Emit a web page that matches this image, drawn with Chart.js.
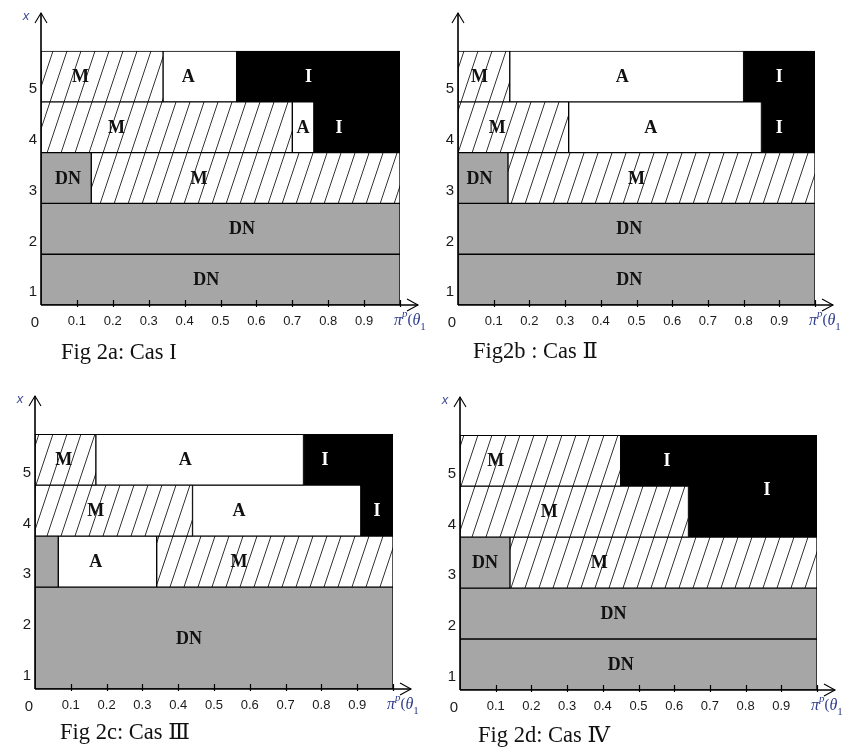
<!DOCTYPE html>
<html><head><meta charset="utf-8">
<script src="https://cdn.jsdelivr.net/npm/chart.js@4/dist/chart.umd.min.js"></script>
<style>
html,body{margin:0;padding:0;background:#fff;}
body{width:853px;height:749px;position:relative;overflow:hidden;}
canvas{position:absolute;}
.cap{position:absolute;font-family:'Liberation Serif','DejaVu Serif',serif;font-size:22.5px;line-height:24px;color:#111;white-space:nowrap;}
</style></head><body>
<canvas id="ca" width="440" height="341" style="left:0;top:0"></canvas>
<canvas id="cb" width="428" height="341" style="left:425px;top:0"></canvas>
<canvas id="cc" width="440" height="341" style="left:0;top:383px"></canvas>
<canvas id="cd" width="428" height="341" style="left:425px;top:384px"></canvas>
<div class="cap" style="left:61px;top:340px">Fig 2a: Cas I</div>
<div class="cap" style="left:473px;top:339px">Fig2b : Cas Ⅱ</div>
<div class="cap" style="left:60px;top:720px">Fig 2c: Cas Ⅲ</div>
<div class="cap" style="left:478px;top:723px">Fig 2d: Cas Ⅳ</div>
<script>
// ---- data: [row (or [fromRow,toRow]), zone, start, end, labelX, labelY] ----
const caseI = [
  [1,'DN',0,1,0.46],
  [2,'DN',0,1,0.56],
  [3,'DN',0,0.14,0.075],
  [3,'M',0.14,1,0.44],
  [4,'M',0,0.70,0.21],
  [4,'A',0.70,0.76,0.73],
  [4,'I',0.76,1,0.83],
  [5,'M',0,0.34,0.11],
  [5,'A',0.34,0.545,0.41],
  [5,'I',0.545,1,0.745]
];
const caseII = [
  [1,'DN',0,1,0.48],
  [2,'DN',0,1,0.48],
  [3,'DN',0,0.14,0.06],
  [3,'M',0.14,1,0.5],
  [4,'M',0,0.31,0.11],
  [4,'A',0.31,0.85,0.54],
  [4,'I',0.85,1,0.9],
  [5,'M',0,0.145,0.06],
  [5,'A',0.145,0.8,0.46],
  [5,'I',0.8,1,0.9]
];
const caseIII = [
  [[1,2],'DN',0,1,0.43],
  [3,'DN',0,0.065,null],
  [3,'A',0.065,0.34,0.17],
  [3,'M',0.34,1,0.57],
  [4,'M',0,0.44,0.17],
  [4,'A',0.44,0.91,0.57],
  [4,'I',0.91,1,0.955],
  [5,'M',0,0.17,0.08],
  [5,'A',0.17,0.75,0.42],
  [5,'I',0.75,1,0.81]
];
const caseIV = [
  [1,'DN',0,1,0.45],
  [2,'DN',0,1,0.43],
  [3,'DN',0,0.14,0.07],
  [3,'M',0.14,1,0.39],
  [4,'M',0,0.64,0.25],
  [4,'I',0.64,1,0.86,3.93],
  [5,'M',0,0.45,0.1],
  [5,'I',0.45,1,0.58]
];
const zones = ['DN','M','A','I'];
const yTickLabels = ['1','2','3','4','5'];
const xTickValues = [0.1,0.2,0.3,0.4,0.5,0.6,0.7,0.8,0.9,1.0];
const xTickLabels = ['0.1','0.2','0.3','0.4','0.5','0.6','0.7','0.8','0.9',''];
const axisNames = ['x','','x','x'];

// ---- styles ----
function hatch() {
  const w = 14, h = 42;
  const c = document.createElement('canvas'); c.width = w; c.height = h;
  const g = c.getContext('2d');
  g.fillStyle = '#fff'; g.fillRect(0, 0, w, h);
  g.strokeStyle = '#333'; g.lineWidth = 1;
  for (const o of [-w, 0, w]) { g.beginPath(); g.moveTo(o, h); g.lineTo(o + w, 0); g.stroke(); }
  return g.createPattern(c, 'repeat');
}
const fills = { DN: '#a6a6a6', M: hatch(), A: '#ffffff', I: '#000000' };

function expand(segs) {
  const out = [];
  for (const s of segs) {
    const [lo, hi] = Array.isArray(s[0]) ? s[0] : [s[0], s[0]];
    for (let r = lo; r <= hi; r++) out.push({ y: r - 0.5, x: [s[2], s[3]], openTop: r < hi, openBottom: r > lo });
  }
  return out;
}

const deco = {
  id: 'deco',
  afterDatasetsDraw(chart, args, opts) {
    const { ctx, chartArea: a, scales: { x, y } } = chart;
    const x0 = x.getPixelForValue(0), y0 = y.getPixelForValue(0);
    const yTop = y.getPixelForValue(y.max);
    ctx.save();
    // zone labels
    ctx.textAlign = 'center'; ctx.textBaseline = 'middle';
    ctx.font = 'bold 18px "Liberation Serif"';
    for (const s of opts.segs) {
      if (s[4] === null) continue;
      const [lo, hi] = Array.isArray(s[0]) ? s[0] : [s[0], s[0]];
      const lx = s[4] !== undefined ? s[4] : (s[2] + s[3]) / 2;
      const ly = s[5] !== undefined ? s[5] : (lo - 1 + hi) / 2;
      ctx.fillStyle = s[1] === 'I' ? '#fff' : '#111';
      ctx.fillText(s[1], x.getPixelForValue(lx), y.getPixelForValue(ly) + 1);
    }
    // axes
    const xe = x.getPixelForValue(1) + 18;
    ctx.strokeStyle = '#000'; ctx.lineWidth = 1.6;
    ctx.beginPath();
    ctx.moveTo(x0, y0); ctx.lineTo(x0, yTop);
    ctx.moveTo(x0, y0); ctx.lineTo(xe, y0);
    ctx.stroke();
    ctx.lineWidth = 1.1;
    ctx.beginPath();
    ctx.moveTo(x0 - 6, yTop + 10); ctx.lineTo(x0, yTop); ctx.lineTo(x0 + 6, yTop + 10);
    ctx.moveTo(xe - 11, y0 - 6); ctx.lineTo(xe, y0); ctx.lineTo(xe - 11, y0 + 6);
    ctx.stroke();
    ctx.lineWidth = 1.2;
    ctx.beginPath();
    for (const v of xTickValues) {
      const px = Math.round(x.getPixelForValue(v)) + 0.5;
      ctx.moveTo(px, y0 - 5); ctx.lineTo(px, y0 + 2);
    }
    ctx.stroke();
    // origin "0"
    ctx.fillStyle = '#1a1a1a';
    ctx.font = '15px "Liberation Sans"';
    ctx.textAlign = 'center';
    ctx.fillText('0', x0 - 6, y0 + 18);
    // axis name
    if (opts.name) {
      ctx.fillStyle = '#3f4b93';
      ctx.font = 'italic 13px "Liberation Sans"';
      ctx.fillText(opts.name, x0 - 15, yTop + 3);
    }
    // x-axis title pi^p(theta_1)
    ctx.fillStyle = '#2d3c8a';
    ctx.textAlign = 'left'; ctx.textBaseline = 'alphabetic';
    let px = x.getPixelForValue(1) - 6; const py = y0 + 20;
    const put = (t, f, dy) => { ctx.font = f; ctx.fillText(t, px, py + dy); px += ctx.measureText(t).width; };
    put('π', 'italic 16px "Liberation Serif"', 0);
    put('p', 'italic 11px "Liberation Serif"', -8);
    put('(', '15px "Liberation Serif"', -1);
    put('θ', 'italic 16px "Liberation Serif"', 0);
    put('1', '11px "Liberation Serif"', 5);
    ctx.restore();
  }
};

function makeChart(id, segs, name, left, right, bottom) {
  const datasets = zones.map(k => ({
    label: k,
    data: expand(segs.filter(s => s[1] === k)),
    backgroundColor: fills[k],
    borderColor: '#000',
    borderWidth: ctx => {
      const r = ctx.raw;
      if (!r) return 1;
      return { top: r.openTop ? 0 : 1, bottom: r.openBottom ? 0 : 1, left: 1, right: 1 };
    },
    borderSkipped: false,
    grouped: false,
    barPercentage: 1,
    categoryPercentage: 1
  }));
  return new Chart(document.getElementById(id), {
    type: 'bar',
    data: { datasets },
    plugins: [deco],
    options: {
      indexAxis: 'y',
      responsive: false,
      animation: false,
      events: [],
      layout: { padding: { left: 0, top: 10, right: right, bottom: 0 } },
      plugins: { legend: { display: false }, tooltip: { enabled: false }, deco: { segs, name } },
      scales: {
        x: {
          type: 'linear', min: 0, max: 1, stacked: false, offset: false,
          grid: { display: false, drawTicks: false }, border: { display: false },
          afterBuildTicks: s => { s.ticks = xTickValues.map(v => ({ value: v })); },
          afterFit: s => { s.height = bottom; },
          ticks: { autoSkip: false, maxRotation: 0, padding: 9, color: '#1a1a1a',
                   font: { family: 'Liberation Sans', size: 13 },
                   callback: (v, i) => xTickLabels[i] }
        },
        y: {
          type: 'linear', min: 0, max: 5.75, offset: false,
          grid: { display: false, drawTicks: false }, border: { display: false },
          afterBuildTicks: s => { s.ticks = yTickLabels.map((t, i) => ({ value: i + 0.25 })); },
          afterFit: s => { s.width = left; },
          ticks: { autoSkip: false, padding: 4, color: '#1a1a1a',
                   font: { family: 'Liberation Sans', size: 15 },
                   callback: (v, i) => yTickLabels[i] }
        }
      }
    }
  });
}

makeChart('ca', caseI, axisNames[0], 41, 40, 36);
makeChart('cb', caseII, axisNames[1], 33, 38, 36);
makeChart('cc', caseIII, axisNames[2], 35, 47, 35);
makeChart('cd', caseIV, axisNames[3], 35, 36, 35);
</script>
</body></html>
